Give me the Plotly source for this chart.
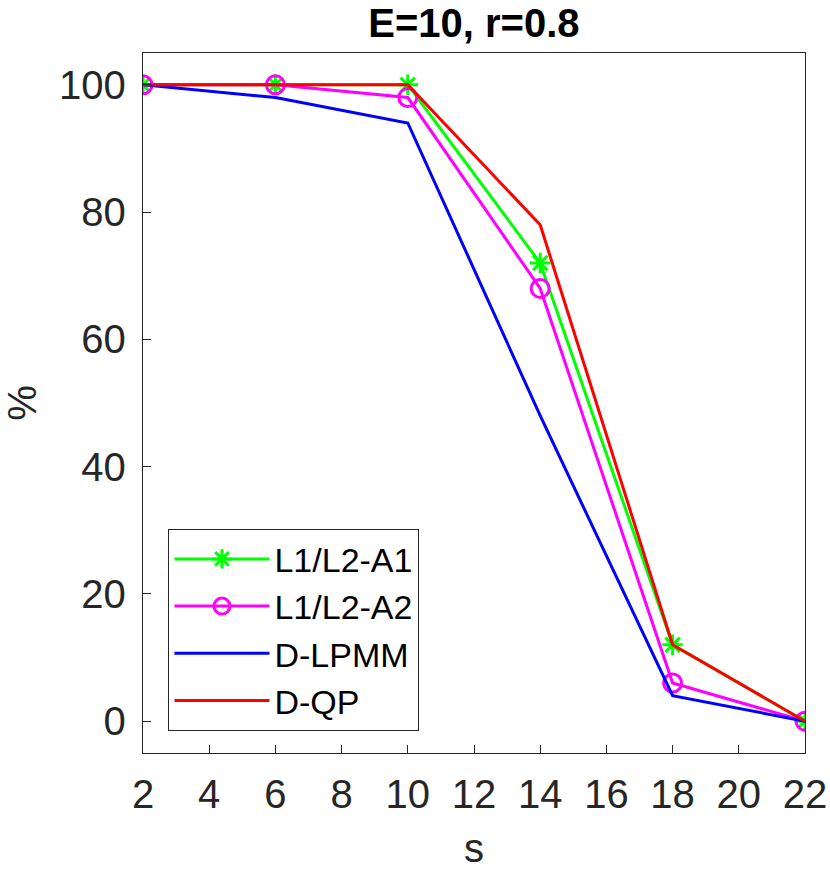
import plotly.graph_objects as go

# data
s = [2, 6, 10, 14, 18, 22]
a1 = [100, 100, 100, 72, 12, 0]      # L1/L2-A1
a2 = [100, 100, 98, 68, 6, 0]        # L1/L2-A2
lpmm = [100, 98, 94, 48, 4, 0]       # D-LPMM
qp = [100, 100, 100, 78, 12, 0]      # D-QP

x_ticks = list(range(2, 23, 2))
y_ticks = [0, 20, 40, 60, 80, 100]

axis_col = "#262626"
font_family = "Liberation Sans, Arial, sans-serif"

fig = go.Figure()
fig.add_trace(go.Scatter(x=s, y=a1, name="L1/L2-A1", mode="lines+markers",
                         line=dict(color="#00FF00", width=3),
                         marker=dict(symbol="asterisk-open", size=17,
                                     line=dict(color="#00FF00", width=3))))
fig.add_trace(go.Scatter(x=s, y=a2, name="L1/L2-A2", mode="lines+markers",
                         line=dict(color="#FF00FF", width=3),
                         marker=dict(symbol="circle-open", size=18, color="#FF00FF",
                                     line=dict(color="#FF00FF", width=3))))
fig.add_trace(go.Scatter(x=s, y=lpmm, name="D-LPMM", mode="lines",
                         line=dict(color="#0000FF", width=3)))
fig.add_trace(go.Scatter(x=s, y=qp, name="D-QP", mode="lines",
                         line=dict(color="#FF0000", width=3)))

axis_common = dict(
    showline=True, mirror=True, linecolor=axis_col, linewidth=1.3,
    ticks="inside", ticklen=8, tickwidth=1.3, tickcolor=axis_col,
    showgrid=False, zeroline=False, automargin=False,
    tickfont=dict(size=40, color=axis_col, family=font_family),
)

fig.update_xaxes(range=[2, 22], tickvals=x_ticks, ticklabelstandoff=6,
                 title=dict(text="s", font=dict(size=40, color=axis_col, family=font_family),
                            standoff=18),
                 **axis_common)
fig.update_yaxes(range=[-5, 105], tickvals=y_ticks, ticklabelstandoff=8,
                 title=dict(text="%", font=dict(size=40, color=axis_col, family=font_family),
                            standoff=14),
                 **axis_common)

fig.update_layout(
    width=830, height=875,
    margin=dict(l=143, r=25, t=53, b=122),
    paper_bgcolor="white", plot_bgcolor="white",
    title=dict(text="<b>E=10, r=0.8</b>", x=0.571, xanchor="center",
               y=0.974, yanchor="middle",
               font=dict(size=40, color="black", family=font_family)),
    legend=dict(x=0.038, y=0.32, xanchor="left", yanchor="top",
                bgcolor="white", bordercolor=axis_col, borderwidth=1.3,
                font=dict(size=34, color="black", family=font_family),
                itemwidth=95, tracegroupgap=0),
    showlegend=True,
)

# drop the default page margin so the figure fills the window exactly
fig.write_html("out.html", config={"displayModeBar": False},
               post_script="document.body.style.margin='0';"
                           "document.body.style.overflow='hidden';")
